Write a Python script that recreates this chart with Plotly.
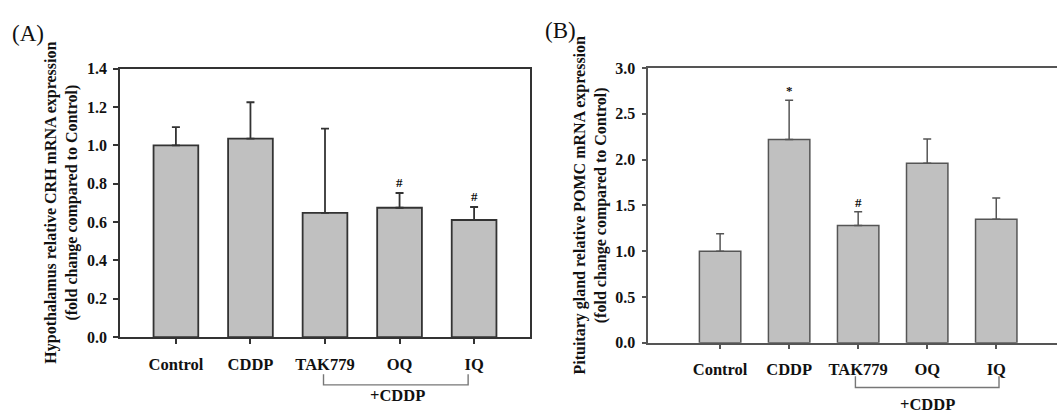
import plotly.graph_objects as go

categories = ["Control", "CDDP", "TAK779", "OQ", "IQ"]
crh_mean = [1.00, 1.035, 0.648, 0.675, 0.611]
crh_err = [0.095, 0.19, 0.44, 0.077, 0.068]
crh_marks = ["", "", "", "#", "#"]
pomc_mean = [1.00, 2.22, 1.28, 1.96, 1.35]
pomc_err = [0.19, 0.43, 0.15, 0.265, 0.23]
pomc_marks = ["", "*", "#", "", ""]

W, H = 1057, 414
xpos = list(range(len(categories)))
SERIF = "Liberation Serif, Times New Roman, serif"

def px_x(v):
    return v / W

def px_y(v):
    return (H - v) / H

fig = go.Figure()

fig.add_trace(go.Bar(
    x=xpos, y=crh_mean, width=0.6, xaxis="x", yaxis="y",
    marker=dict(color="#c0c0c0", line=dict(color="#333333", width=1.8)),
    error_y=dict(type="data", array=crh_err, arrayminus=[0] * len(crh_err),
                 symmetric=False, color="#333333", thickness=1.8, width=4),
    showlegend=False, hoverinfo="skip"))

fig.add_trace(go.Bar(
    x=xpos, y=pomc_mean, width=0.6, xaxis="x2", yaxis="y2",
    marker=dict(color="#c0c0c0", line=dict(color="#555555", width=1.5)),
    error_y=dict(type="data", array=pomc_err, arrayminus=[0] * len(pomc_err),
                 symmetric=False, color="#555555", thickness=1.5, width=4),
    showlegend=False, hoverinfo="skip"))

tickfont = dict(family=SERIF, size=16, color="#111111", weight="bold")
catfont = dict(family=SERIF, size=16.5, color="#111111", weight="bold")

axis_common = dict(ticks="outside", ticklen=5, tickwidth=1.5, showgrid=False,
                   zeroline=False, showline=True)

fig.update_layout(
    width=W, height=H, margin=dict(l=0, r=0, t=0, b=0),
    paper_bgcolor="white", plot_bgcolor="white",
    bargap=0.4,
    xaxis=dict(domain=[px_x(120), px_x(530)], range=[-0.75, 4.75],
               tickvals=xpos, ticktext=categories, tickfont=catfont,
               linecolor="#333333", linewidth=1.8, tickcolor="#333333",
               mirror=True, anchor="y", ticklabelstandoff=6, **axis_common),
    yaxis=dict(domain=[px_y(343.3), px_y(63.3)], range=[0, 1.4], dtick=0.2,
               tickformat=".1f", tickfont=tickfont,
               linecolor="#333333", linewidth=1.8, tickcolor="#333333",
               mirror=True, anchor="x", ticklabelstandoff=3, **axis_common),
    xaxis2=dict(domain=[px_x(648.3), 1.0], range=[-1.04, 4.88],
                tickvals=xpos, ticktext=categories, tickfont=catfont,
                linecolor="#555555", linewidth=1.5, tickcolor="#555555",
                mirror=True, anchor="y2", ticklabelstandoff=6, **axis_common),
    yaxis2=dict(domain=[px_y(349), px_y(62.7)], range=[0, 3.0], dtick=0.5,
                tickformat=".1f", tickfont=tickfont,
                linecolor="#555555", linewidth=1.5, tickcolor="#555555",
                mirror=False, anchor="x2", ticklabelstandoff=3, **axis_common),
)

annotations = []
# significance marks
for i, (m, e, s) in enumerate(zip(crh_mean, crh_err, crh_marks)):
    if s:
        annotations.append(dict(x=i, y=m + e, xref="x", yref="y", text=s,
                                showarrow=False, yanchor="bottom", yshift=1,
                                font=dict(family=SERIF, size=13, color="#111", weight="bold")))
for i, (m, e, s) in enumerate(zip(pomc_mean, pomc_err, pomc_marks)):
    if s:
        annotations.append(dict(x=i, y=m + e, xref="x2", yref="y2", text=s,
                                showarrow=False, yanchor="bottom", yshift=0,
                                font=dict(family=SERIF, size=13, color="#111", weight="bold")))

# y-axis titles
annotations.append(dict(x=px_x(62), y=px_y(203), xref="paper", yref="paper",
                        text="Hypothalamus relative CRH mRNA expression<br>(fold change compared to Control)",
                        textangle=-90, showarrow=False, xanchor="center", yanchor="middle",
                        font=dict(family=SERIF, size=16, color="#111", weight="bold")))
annotations.append(dict(x=px_x(591), y=px_y(206), xref="paper", yref="paper",
                        text="Pituitary gland relative POMC mRNA expression<br>(fold change compared to Control)",
                        textangle=-90, showarrow=False, xanchor="center", yanchor="middle",
                        font=dict(family=SERIF, size=16, color="#111", weight="bold")))
# panel labels
annotations.append(dict(x=px_x(28), y=px_y(27), xref="paper", yref="paper", text="(A)",
                        showarrow=False, xanchor="center", yanchor="middle",
                        font=dict(family=SERIF, size=23, color="#111")))
annotations.append(dict(x=px_x(560), y=px_y(23), xref="paper", yref="paper", text="(B)",
                        showarrow=False, xanchor="center", yanchor="middle",
                        font=dict(family=SERIF, size=23, color="#111")))
# +CDDP labels
annotations.append(dict(x=2.97, y=px_y(404), xref="x", yref="paper", text="+CDDP",
                        showarrow=False, xanchor="center", yanchor="middle",
                        font=dict(family=SERIF, size=16.5, color="#111", weight="bold")))
annotations.append(dict(x=3.0, y=px_y(402), xref="x2", yref="paper", text="+CDDP",
                        showarrow=False, xanchor="center", yanchor="top",
                        font=dict(family=SERIF, size=16.5, color="#111", weight="bold")))
fig.update_layout(annotations=annotations)

# brackets
fig.add_shape(type="path", xref="x", yref="paper",
              path=f"M 1.98 {px_y(382)} L 1.98 {px_y(393)} L 3.92 {px_y(393)} L 3.92 {px_y(382)}",
              line=dict(color="#777777", width=1.4))
fig.add_shape(type="path", xref="x2", yref="paper",
              path=f"M 1.96 {px_y(384)} L 1.96 {px_y(395.7)} L 4.04 {px_y(395.7)} L 4.04 {px_y(384)}",
              line=dict(color="#777777", width=1.4))

fig.write_html("out.html")
